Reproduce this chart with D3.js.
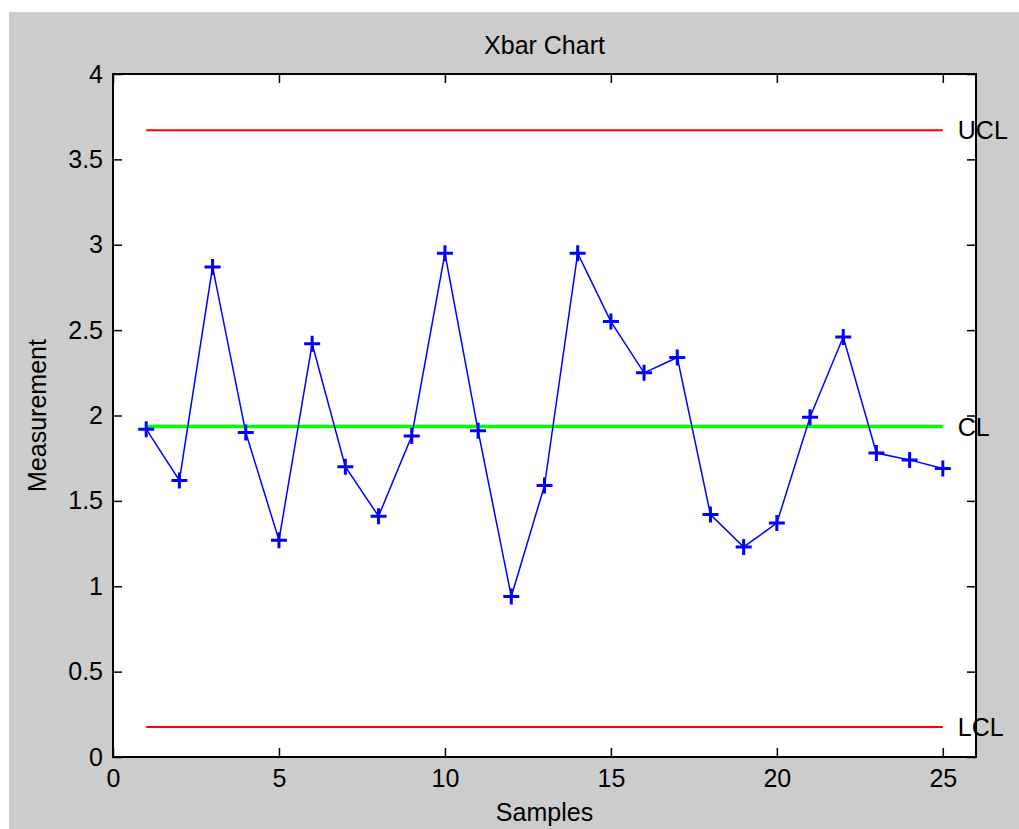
<!DOCTYPE html>
<html>
<head>
<meta charset="utf-8">
<script src="https://cdn.jsdelivr.net/npm/d3@7"></script>
<style>
    body { margin: 0; background: #fff; }
    text { font-family: "Liberation Sans", Arial, sans-serif; fill: #000; }
</style>
</head>
<body>
<svg id="chart" width="1019" height="829"></svg>
<script>
// sample numbers and subgroup means
var samples = [1, 2, 3, 4, 5, 6, 7, 8, 9, 10, 11, 12, 13, 14, 15, 16, 17, 18, 19, 20, 21, 22, 23, 24, 25];
var means = [1.92, 1.62, 2.87, 1.90, 1.27, 2.42, 1.70, 1.41, 1.88, 2.95, 1.91, 0.94, 1.59,
             2.95, 2.55, 2.25, 2.34, 1.42, 1.23, 1.37, 1.99, 2.46, 1.78, 1.74, 1.69];

// control limits
var limitNames = ["UCL", "CL", "LCL"];
var limitValues = [3.67, 1.935, 0.176];
var limitColors = ["#ff0000", "#00ff00", "#ff0000"];
var limitWidths = [2, 3.5, 2];

var xTicks = [0, 5, 10, 15, 20, 25];
var yTicks = [0, 0.5, 1, 1.5, 2, 2.5, 3, 3.5, 4];

var svg = d3.select("#chart");

var plot = { left: 113, right: 976, top: 74, bottom: 757 };
var fontSize = "25px";

// figure background
svg.append("rect")
    .attr("x", 9)
    .attr("y", 12)
    .attr("width", 1010)
    .attr("height", 817)
    .style("fill", "#cccccc");

svg.append("rect")
    .attr("x", plot.left)
    .attr("y", plot.top)
    .attr("width", plot.right - plot.left)
    .attr("height", plot.bottom - plot.top)
    .style("fill", "#fff");

var x = d3.scaleLinear().domain([0, 26]).range([plot.left, plot.right]);
var y = d3.scaleLinear().domain([0, 4]).range([plot.bottom, plot.top]);

// axes with inward ticks
var gx = svg.append("g")
    .attr("transform", "translate(0," + plot.bottom + ")")
    .call(d3.axisBottom(x).tickValues(xTicks).tickSizeInner(-9).tickSizeOuter(0).tickPadding(12));

var gy = svg.append("g")
    .attr("transform", "translate(" + plot.left + ",0)")
    .call(d3.axisLeft(y).tickValues(yTicks).tickSizeInner(-9).tickSizeOuter(0).tickPadding(10)
        .tickFormat(d3.format("")));

var gxTop = svg.append("g")
    .attr("transform", "translate(0," + plot.top + ")")
    .call(d3.axisTop(x).tickValues(xTicks).tickSizeInner(-9).tickSizeOuter(0).tickFormat(""));

var gyRight = svg.append("g")
    .attr("transform", "translate(" + plot.right + ",0)")
    .call(d3.axisRight(y).tickValues(yTicks).tickSizeInner(-9).tickSizeOuter(0).tickFormat(""));

[gx, gy, gxTop, gyRight].forEach(function(g) {
    g.select(".domain").remove();
    g.selectAll(".tick line").attr("stroke", "#000").attr("stroke-width", 1.5);
    g.selectAll(".tick text").style("font-size", fontSize).attr("fill", "#000");
});

// control limit lines
var line = d3.line()
    .x(function(d) { return x(d[0]); })
    .y(function(d) { return y(d[1]); });

limitValues.forEach(function(v, i) {
    var ends = [[samples[0], v], [samples[samples.length - 1], v]];
    svg.append("path")
        .attr("d", line(ends))
        .style("fill", "none")
        .style("stroke", limitColors[i])
        .style("stroke-width", limitWidths[i]);

    svg.append("text")
        .attr("x", x(samples[samples.length - 1]) + 15)
        .attr("y", y(v))
        .attr("dy", "0.36em")
        .style("font-size", fontSize)
        .text(limitNames[i]);
});

// sample means
var points = samples.map(function(s, i) { return [s, means[i]]; });

svg.append("path")
    .attr("d", line(points))
    .style("fill", "none")
    .style("stroke", "#0000ff")
    .style("stroke-width", 1.5);

var arm = 8;
svg.selectAll("path.marker")
    .data(points)
    .enter().append("path")
    .attr("class", "marker")
    .attr("d", function(d) {
        var cx = x(d[0]), cy = y(d[1]);
        return "M" + (cx - arm) + "," + cy + "H" + (cx + arm) +
               "M" + cx + "," + (cy - arm) + "V" + (cy + arm);
    })
    .style("fill", "none")
    .style("stroke", "#0000ff")
    .style("stroke-width", 3);

// frame
svg.append("rect")
    .attr("x", plot.left)
    .attr("y", plot.top)
    .attr("width", plot.right - plot.left)
    .attr("height", plot.bottom - plot.top)
    .style("fill", "none")
    .style("stroke", "#000")
    .style("stroke-width", 2);

// titles
svg.append("text")
    .attr("x", (plot.left + plot.right) / 2)
    .attr("y", 54)
    .attr("text-anchor", "middle")
    .style("font-size", fontSize)
    .text("Xbar Chart");

svg.append("text")
    .attr("x", (plot.left + plot.right) / 2)
    .attr("y", 821)
    .attr("text-anchor", "middle")
    .style("font-size", fontSize)
    .text("Samples");

svg.append("text")
    .attr("transform", "translate(46," + ((plot.top + plot.bottom) / 2) + ") rotate(-90)")
    .attr("text-anchor", "middle")
    .style("font-size", fontSize)
    .text("Measurement");
</script>
</body>
</html>
